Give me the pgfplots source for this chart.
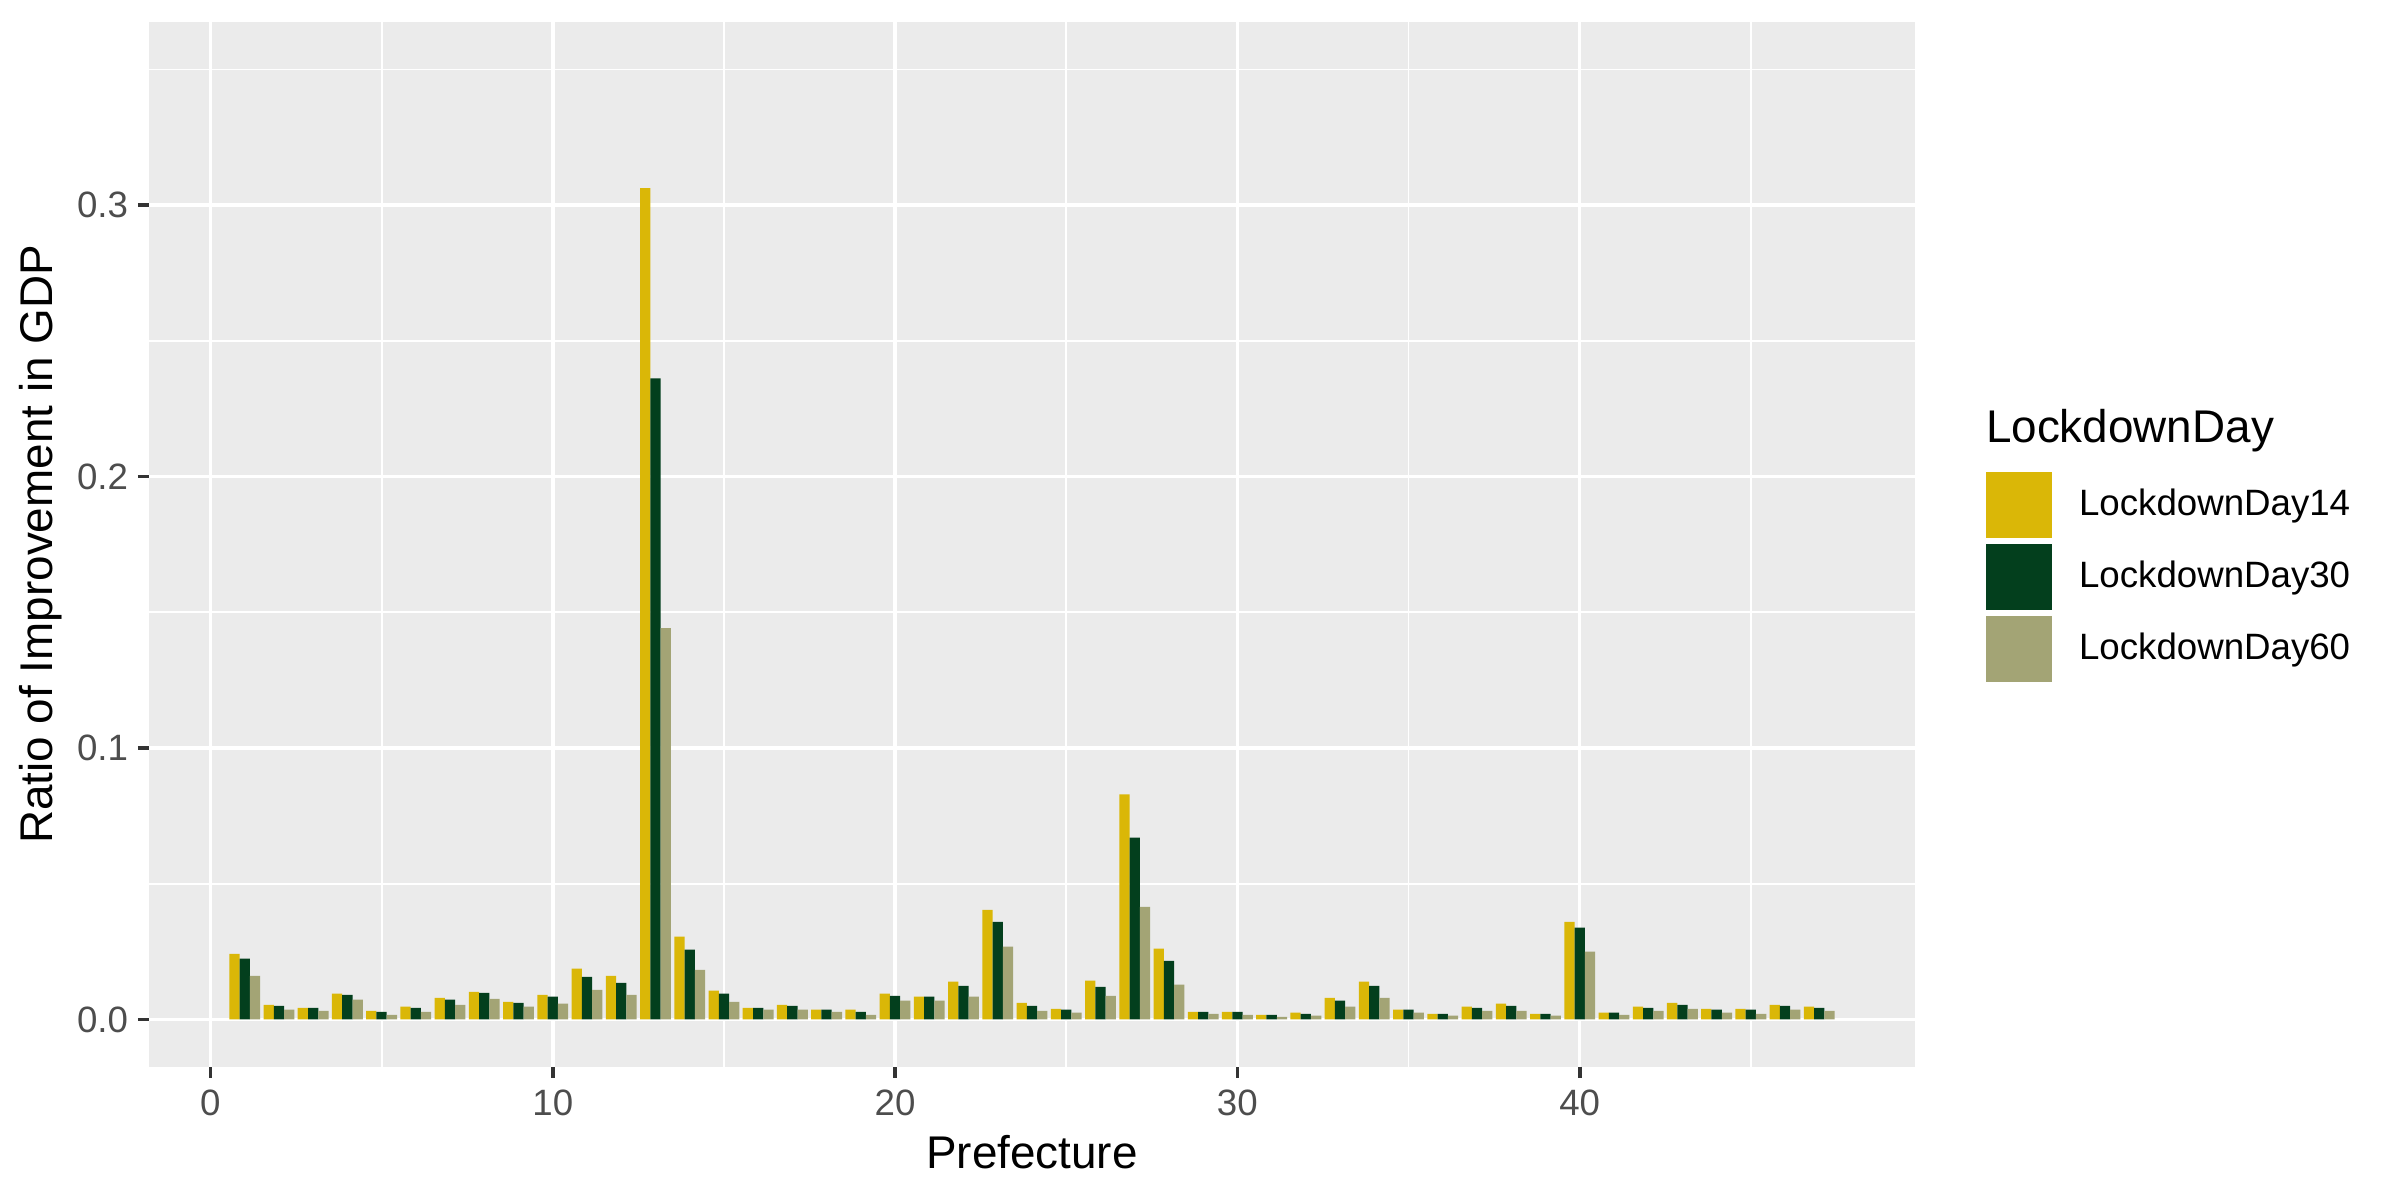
\documentclass[border=0pt]{standalone}
\usepackage{fontspec}
\setmainfont{Liberation Sans}
\usepackage{pgfplots}
\usepackage{pgfplotstable}
\pgfplotsset{compat=1.18}

\definecolor{c14}{HTML}{DAB707}
\definecolor{c30}{HTML}{033F1D}
\definecolor{c60}{HTML}{A3A475}
\definecolor{panel}{HTML}{EBEBEB}
\definecolor{tickgray}{HTML}{4D4D4D}
\definecolor{tickline}{HTML}{333333}

% prefecture, LockdownDay14, LockdownDay30, LockdownDay60
\pgfplotstableread{
p d14 d30 d60
1 0.0242 0.0224 0.0161
2 0.0054 0.0050 0.0036
3 0.0043 0.0043 0.0032
4 0.0095 0.0091 0.0073
5 0.0032 0.0028 0.0017
6 0.0047 0.0043 0.0028
7 0.0080 0.0073 0.0054
8 0.0102 0.0098 0.0076
9 0.0065 0.0061 0.0047
10 0.0091 0.0084 0.0058
11 0.0187 0.0157 0.0109
12 0.0161 0.0135 0.0091
13 0.3063 0.2362 0.1442
14 0.0305 0.0257 0.0183
15 0.0106 0.0095 0.0065
16 0.0043 0.0043 0.0036
17 0.0054 0.0050 0.0036
18 0.0036 0.0036 0.0028
19 0.0036 0.0028 0.0017
20 0.0095 0.0087 0.0069
21 0.0084 0.0084 0.0069
22 0.0139 0.0124 0.0084
23 0.0404 0.0360 0.0268
24 0.0061 0.0050 0.0032
25 0.0039 0.0036 0.0025
26 0.0143 0.0120 0.0087
27 0.0829 0.0670 0.0415
28 0.0261 0.0216 0.0128
29 0.0028 0.0028 0.0021
30 0.0028 0.0028 0.0017
31 0.0017 0.0017 0.0010
32 0.0025 0.0021 0.0014
33 0.0080 0.0069 0.0047
34 0.0139 0.0124 0.0080
35 0.0036 0.0036 0.0025
36 0.0021 0.0021 0.0014
37 0.0047 0.0043 0.0032
38 0.0058 0.0050 0.0032
39 0.0021 0.0021 0.0014
40 0.0360 0.0338 0.0250
41 0.0025 0.0025 0.0017
42 0.0047 0.0043 0.0032
43 0.0061 0.0054 0.0039
44 0.0039 0.0036 0.0025
45 0.0039 0.0036 0.0021
46 0.0054 0.0050 0.0036
47 0.0047 0.0043 0.0032
}\gdp

\begin{document}
\begin{tikzpicture}
\useasboundingbox (-35.76pt,-31.92pt) rectangle (540.24pt,256.08pt);
\begin{axis}[
  at={(0,0)}, anchor=south west,
  scale only axis, width=423.84pt, height=250.8pt,
  clip=false,
  xmin=-1.795, xmax=49.795, ymin=-0.0175, ymax=0.3675,
  axis background/.style={fill=panel},
  axis x line*=bottom, axis y line*=left,
  axis line style={draw=none},
  xtick={0,10,20,30,40},
  minor xtick={5,15,25,35,45},
  ytick={0,0.1,0.2,0.3},
  minor ytick={0.05,0.15,0.25,0.35},
  grid=both,
  major grid style={white, line width=0.85pt},
  minor grid style={white, line width=0.45pt},
  tick align=outside,
  major tick length=2.64pt, minor tick length=0pt,
  tick style={tickline, line width=0.9pt},
  /pgf/number format/assume math mode=true,
  yticklabel style={/pgf/number format/fixed, /pgf/number format/fixed zerofill, /pgf/number format/precision=1},
  tick label style={font=\fontsize{8.8}{10}\selectfont, text=tickgray, inner sep=0pt},
  xticklabel style={yshift=-2.6pt},
  yticklabel style={xshift=-2.2pt},
  xlabel={Prefecture},
  ylabel={Ratio of Improvement in GDP},
  label style={font=\fontsize{11}{13}\selectfont},
  xlabel style={at={(rel axis cs:0.5,-0.0967)}, anchor=base},
  ylabel style={at={(rel axis cs:-0.0612,0.5)}, anchor=center},
  legend image code/.code={\fill[#1] (0pt,-7.92pt) rectangle (15.84pt,7.92pt);},
  legend cell align=left,
  legend style={at={(rel axis cs:1.0402,0.5694)}, anchor=north west,
    draw=none, fill=none, inner sep=0pt, outer sep=0pt,
    row sep=1.44pt, nodes={inner sep=0pt},
    font=\fontsize{8.8}{10}\selectfont,
    /tikz/every odd column/.append style={column sep=6.5pt}},
]
\addplot[ybar, bar width=0.3, bar shift=-0.3, fill=c14, draw=none] table[x=p, y=d14] {\gdp};
\addplot[ybar, bar width=0.3, bar shift=0, fill=c30, draw=none] table[x=p, y=d30] {\gdp};
\addplot[ybar, bar width=0.3, bar shift=0.3, fill=c60, draw=none] table[x=p, y=d60] {\gdp};
\legend{LockdownDay14, LockdownDay30, LockdownDay60}
\node[anchor=base west, inner sep=0pt, font=\fontsize{11}{13}\selectfont] at (rel axis cs:1.0398,0.5974) {LockdownDay};
\end{axis}
\end{tikzpicture}
\end{document}
